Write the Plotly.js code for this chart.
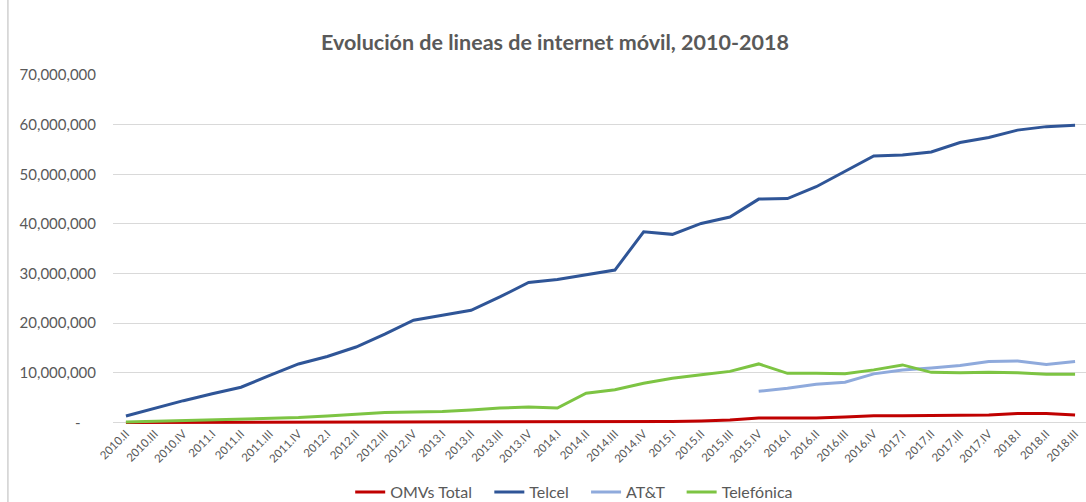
<!DOCTYPE html>
<html>
<head>
<meta charset="utf-8">
<script src="https://cdn.plot.ly/plotly-3.0.1.min.js"></script>
<style>
  html, body { margin: 0; padding: 0; background: #fff; }
  #chart { width: 1086px; height: 502px; }
</style>
</head>
<body>
<div id="chart"></div>
<script>
const categories = ["2010.II","2010.III","2010.IV",
  "2011.I","2011.II","2011.III","2011.IV",
  "2012.I","2012.II","2012.III","2012.IV",
  "2013.I","2013.II","2013.III","2013.IV",
  "2014.I","2014.II","2014.III","2014.IV",
  "2015.I","2015.II","2015.III","2015.IV",
  "2016.I","2016.II","2016.III","2016.IV",
  "2017.I","2017.II","2017.III","2017.IV",
  "2018.I","2018.II","2018.III"];

const omvsTotal = [10000,20000,30000,40000,50000,50000,60000,60000,70000,70000,80000,80000,80000,90000,90000,100000,100000,100000,
  120000,200000,300000,500000,900000,900000,900000,1100000,1350000,1350000,1350000,1500000,1500000,1800000,1800000,1500000];

const telcel = [1300000,2900000,4400000,5800000,7100000,9500000,11800000,13300000,15200000,17800000,20600000,21600000,22600000,25300000,28200000,28800000,29800000,30700000,
  38400000,37900000,40100000,41400000,45000000,45100000,47500000,50600000,53700000,53900000,54500000,56400000,57400000,58900000,59600000,59900000];

const att = [null,null,null,null,null,null,null,null,null,null,null,null,null,null,null,null,null,null,null,null,null,null,
  6300000,6900000,7700000,8100000,9800000,10600000,11000000,11500000,12300000,12400000,11700000,12300000];

const telefonica = [100000,250000,400000,550000,700000,850000,1000000,1300000,1700000,2000000,2100000,2200000,2500000,2900000,3100000,2900000,
  5900000,6600000,7900000,8900000,9600000,10300000,11800000,9900000,9900000,9800000,10600000,11600000,10100000,10000000,10100000,10000000,9700000,9700000];

const seriesNames = ["OMVs Total","Telcel","AT&T","Telefónica"];
const yTickVals = [0,10000000,20000000,30000000,40000000,50000000,60000000,70000000];
const yTickText = ["-\u00a0\u00a0\u00a0\u00a0","10,000,000","20,000,000","30,000,000","40,000,000","50,000,000","60,000,000","70,000,000"];

const colors = ["#C00000","#2F5597","#8FAADC","#7DC443"];
const pad = "\u00a0\u00a0\u00a0";
const data = [omvsTotal, telcel, att, telefonica].map((vals, k) => ({
  type: "scatter",
  mode: "lines",
  x: categories,
  y: vals,
  name: seriesNames[k] + (k < 3 ? pad : ""),
  line: { color: colors[k], width: 3 },
  connectgaps: false,
  hoverinfo: "x+y"
}));

const layout = {
  width: 1086,
  height: 502,
  margin: { l: 113, r: 0, t: 75, b: 78, autoexpand: false },
  paper_bgcolor: "#ffffff",
  plot_bgcolor: "#ffffff",
  font: { family: "Lato, 'Open Sans', sans-serif", color: "#595959" },
  title: {
    text: "<b>Evolución de lineas de internet móvil, 2010-2018</b>",
    font: { family: "Lato, 'Open Sans', sans-serif", size: 21.5, color: "#595959" },
    xref: "container", x: 0.511, xanchor: "center",
    yref: "container", y: 0.916, yanchor: "middle"
  },
  xaxis: {
    type: "category",
    range: [-0.45, 33.38],
    tickangle: -45,
    tickfont: { size: 11.5, color: "#595959" },
    showgrid: false,
    showline: false,
    zeroline: false,
    ticks: "",
    automargin: false
  },
  yaxis: {
    range: [-300000, 70000000],
    tickvals: yTickVals,
    ticktext: yTickText,
    tickfont: { size: 15, color: "#595959" },
    showgrid: true,
    gridcolor: "#d9d9d9",
    gridwidth: 1,
    zeroline: true,
    zerolinecolor: "#d9d9d9",
    zerolinewidth: 1,
    showline: false,
    ticks: "",
    ticklabelstandoff: 16,
    automargin: false
  },
  legend: {
    orientation: "h",
    x: 0.474, xanchor: "center",
    y: -0.195, yanchor: "middle",
    font: { size: 16, color: "#595959" },
    traceorder: "normal",
    itemwidth: 30,
    bgcolor: "rgba(0,0,0,0)"
  },
  shapes: [{
    type: "line", xref: "paper", yref: "paper",
    x0: -0.108, x1: -0.108, y0: -0.4, y1: 1.4,
    line: { color: "#d0d0d0", width: 1.5 }
  }],
  showlegend: true
};

Plotly.newPlot("chart", data, layout, { displayModeBar: false, responsive: false });
</script>
</body>
</html>
